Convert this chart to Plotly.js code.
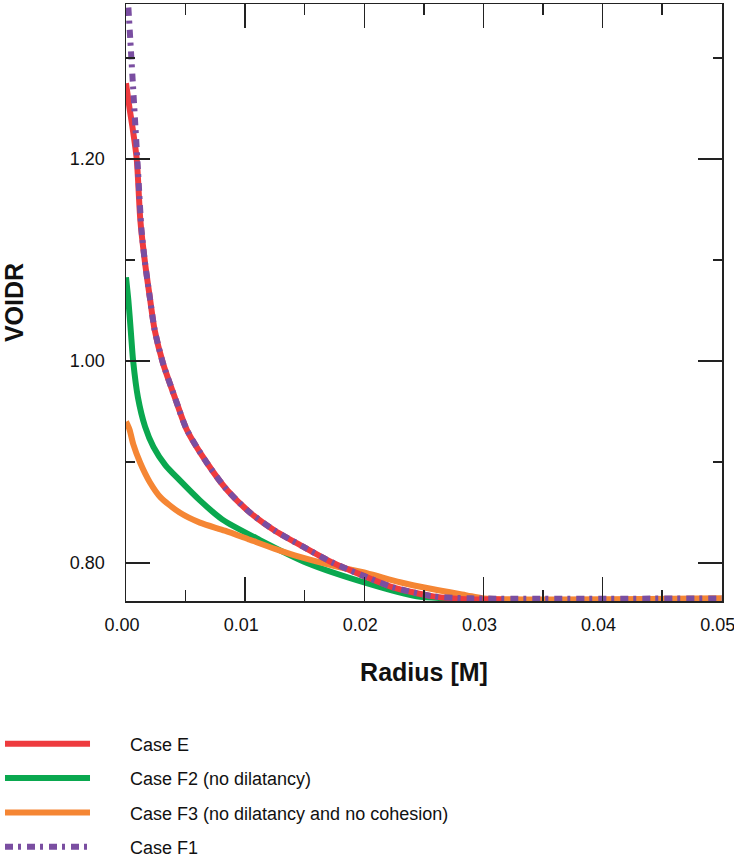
<!DOCTYPE html>
<html>
<head>
<meta charset="utf-8">
<script src="https://cdn.plot.ly/plotly-3.0.1.min.js"></script>
<style>html,body{margin:0;padding:0;background:#fff;}#chart{width:734px;height:861px;}</style>
</head>
<body>
<div id="chart"></div>
<script>
// Case E (red)
const caseE_x = [0, 0.0003, 0.0005, 0.0009, 0.0012, 0.0016, 0.0020, 0.0024, 0.0031, 0.0041, 0.0051, 0.0068, 0.0085, 0.0104, 0.0125, 0.0149, 0.0174, 0.0200, 0.0224, 0.0258, 0.0290, 0.0316];
const caseE_y = [1.275, 1.250, 1.235, 1.200, 1.140, 1.097, 1.063, 1.031, 0.998, 0.964, 0.932, 0.899, 0.872, 0.850, 0.832, 0.816, 0.800, 0.787, 0.776, 0.767, 0.764, 0.764];
// Case F2 (green)
const caseF2_x = [0, 0.0002, 0.0004, 0.0006, 0.0010, 0.0016, 0.0023, 0.0033, 0.0045, 0.0062, 0.0081, 0.0112, 0.0152, 0.0202, 0.0244, 0.0270, 0.0290];
const caseF2_y = [1.083, 1.060, 1.030, 1.000, 0.964, 0.935, 0.915, 0.897, 0.882, 0.862, 0.843, 0.823, 0.800, 0.780, 0.767, 0.765, 0.764];
// Case F3 (orange)
const caseF3_x = [0, 0.0003, 0.0006, 0.0012, 0.0020, 0.0029, 0.0045, 0.0062, 0.0083, 0.0104, 0.0125, 0.0146, 0.0175, 0.0202, 0.0230, 0.0258, 0.0286, 0.0300, 0.0500];
const caseF3_y = [0.940, 0.932, 0.918, 0.899, 0.880, 0.865, 0.850, 0.840, 0.832, 0.823, 0.814, 0.806, 0.797, 0.790, 0.781, 0.774, 0.768, 0.765, 0.765];
// Case F1 (purple, dotted)
const caseF1_x = [0.0002, 0.0004, 0.0006, 0.0008, 0.0010, 0.0013, 0.0016, 0.0020, 0.0024, 0.0031, 0.0041, 0.0051, 0.0068, 0.0085, 0.0104, 0.0125, 0.0149, 0.0174, 0.0200, 0.0224, 0.0258, 0.0290, 0.0500];
const caseF1_y = [1.350, 1.310, 1.270, 1.230, 1.190, 1.130, 1.097, 1.063, 1.031, 0.998, 0.964, 0.932, 0.899, 0.872, 0.850, 0.832, 0.816, 0.800, 0.787, 0.776, 0.767, 0.765, 0.765];

const names = ["Case E", "Case F2 (no dilatancy)", "Case F3 (no dilatancy and no cohesion)", "Case F1"];
const colors = ["#ee3b3e", "#0aa84f", "#f58634", "#7a4ea1"];

const xTickVals = [0, 0.01, 0.02, 0.03, 0.04, 0.05];
const xTickText = ["0.00", "0.01", "0.02", "0.03", "0.04", "0.05"];
const yTickVals = [0.80, 1.00, 1.20];
const yTickText = ["0.80", "1.00", "1.20"];

const FONT = 'Liberation Sans, Arial, sans-serif';
const PAD = '\u00a0'.repeat(7);

function tr(x, y, i, rank, dash, leg) {
  return {
    x: x, y: y, type: 'scatter', mode: 'lines', name: PAD + names[i],
    legend: leg || 'legend',
    legendgroup: 'g' + i, legendrank: rank,
    line: {color: colors[i], width: 6, dash: dash || 'solid', shape: 'spline', smoothing: 0.7},
    hoverinfo: 'skip'
  };
}

const data = [
  tr(caseF2_x, caseF2_y, 1, 2),
  tr(caseF3_x, caseF3_y, 2, 3),
  tr(caseE_x, caseE_y, 0, 1),
  tr(caseF1_x, caseF1_y, 3, 4, '8px,5px,3px,6px', 'legend2')
];

const axisCommon = {
  showline: true, mirror: 'ticks', linecolor: '#222', linewidth: 1.5,
  ticks: 'inside', ticklen: 24, tickwidth: 1.5, tickcolor: '#222',
  showgrid: false, zeroline: false, automargin: false,
  ticklabeloverflow: 'allow',
  tickfont: {family: FONT, size: 18, color: '#111'}
};

const legendCommon = {
  xanchor: 'left', yanchor: 'top', orientation: 'v',
  itemwidth: 85, tracegroupgap: 8,
  font: {family: FONT, size: 18, color: '#111'},
  bgcolor: 'rgba(0,0,0,0)', borderwidth: 0
};

const layout = {
  width: 734, height: 861,
  margin: {l: 126, r: 12, t: 4, b: 260, autoexpand: false},
  paper_bgcolor: '#fff', plot_bgcolor: '#fff',
  showlegend: true,
  xaxis: Object.assign({}, axisCommon, {
    range: [0, 0.05002], tickvals: xTickVals, ticktext: xTickText,
    ticklabelstandoff: 7, ticklabelshift: -4,
    minor: {dtick: 0.005, ticklen: 11, tickwidth: 1.5, tickcolor: '#222', ticks: 'inside', showgrid: false},
    title: {text: '<b>Radius [M]</b>', standoff: 29, font: {family: FONT, size: 25, color: '#111'}}
  }),
  yaxis: Object.assign({}, axisCommon, {
    range: [0.7624, 1.3535], tickvals: yTickVals, ticktext: yTickText,
    ticklabelstandoff: 16,
    minor: {dtick: 0.1, tick0: 0.8, ticklen: 9, tickwidth: 1.5, tickcolor: '#222', ticks: 'inside', showgrid: false},
    title: {text: '<b>VOIDR</b>', standoff: 58, font: {family: FONT, size: 25, color: '#111'}}
  }),
  legend: Object.assign({}, legendCommon, {x: -0.2114, y: -0.2085}),
  legend2: Object.assign({}, legendCommon, {x: -0.2114, y: -0.381})
};

Plotly.newPlot('chart', data, layout, {displayModeBar: false, staticPlot: true});
</script>
</body>
</html>
